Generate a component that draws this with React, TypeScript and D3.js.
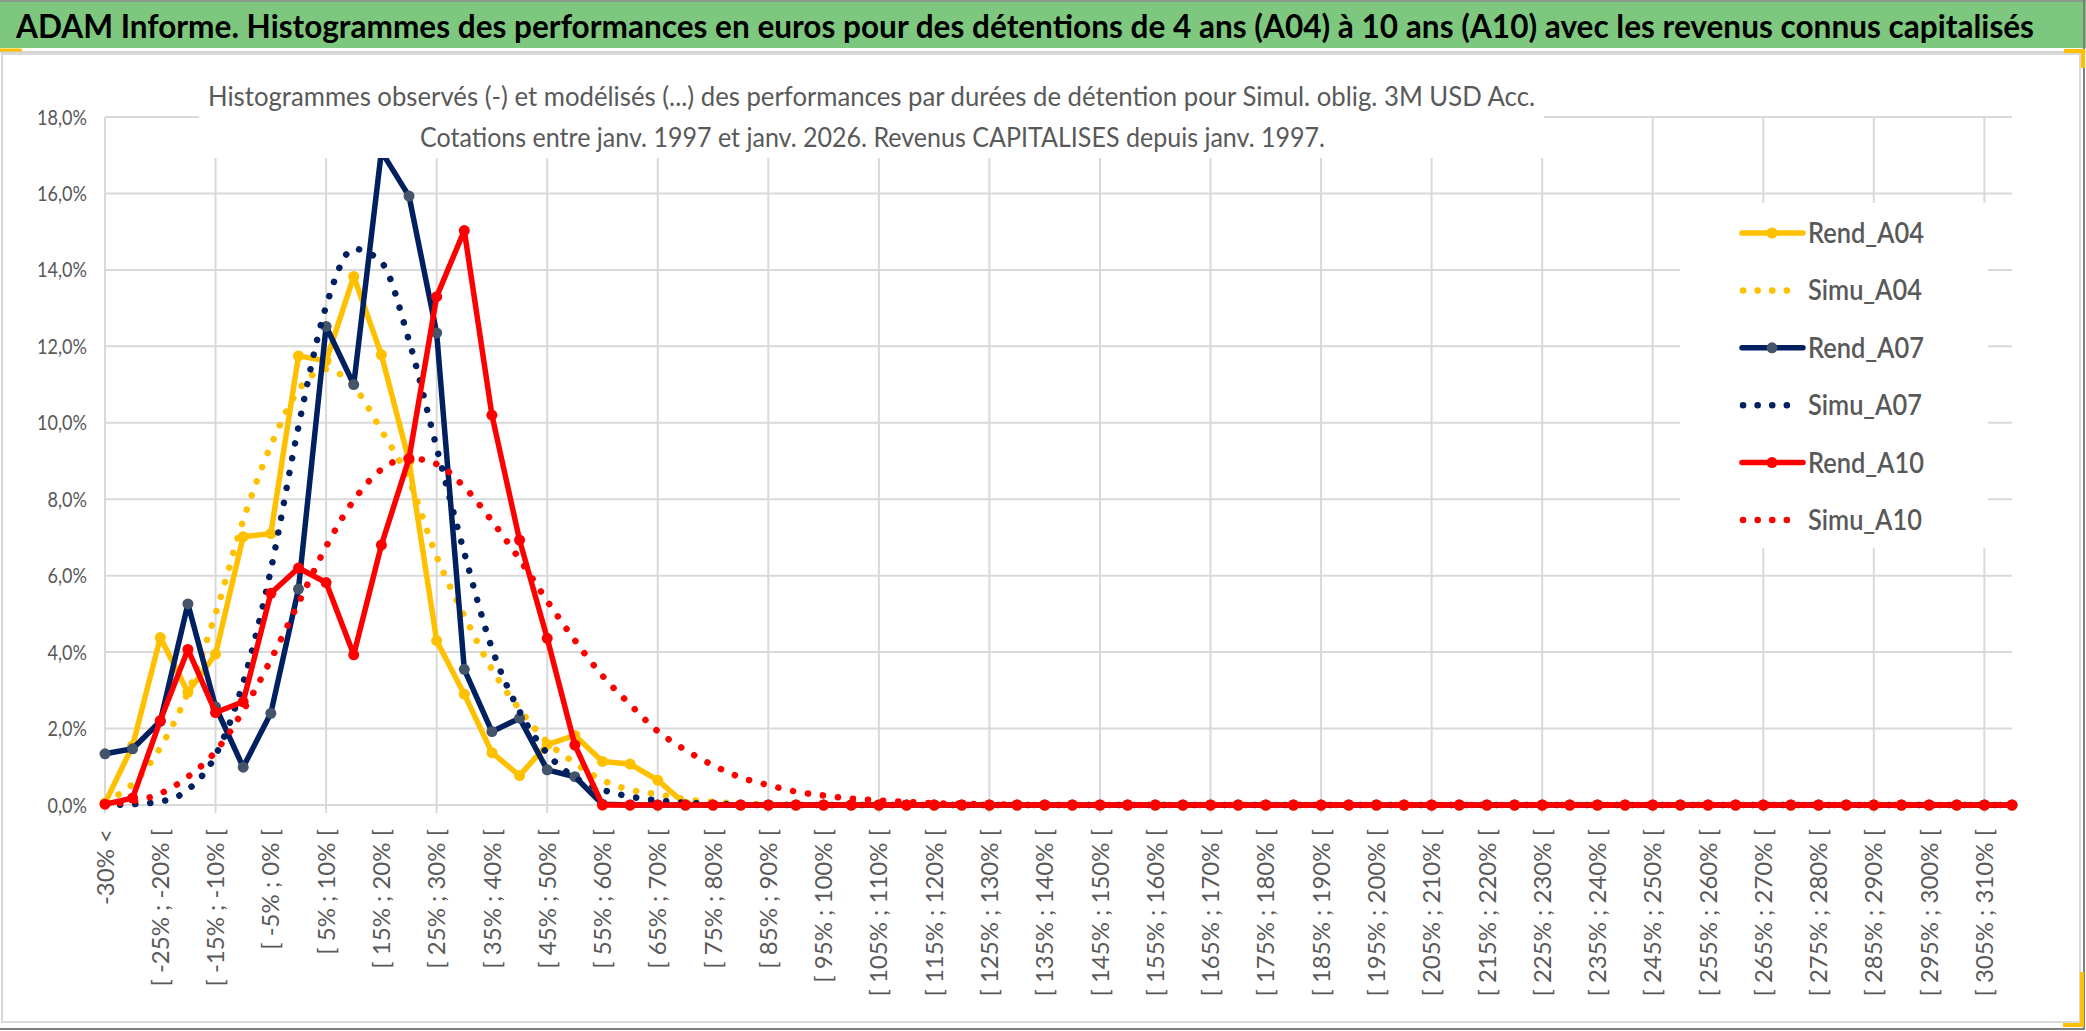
import * as d3 from "d3";

const width = 2086;
const height = 1031;
const FONT = "Lato, 'Open Sans', 'DejaVu Sans', sans-serif";
const GREY = "#595959";

// categories of the histogram (one label out of two is shown)
const categories = [
  "-30% <", "[ -30% ; -25% [", "[ -25% ; -20% [", "[ -20% ; -15% [", "[ -15% ; -10% [",
  "[ -10% ; -5% [", "[ -5% ; 0% [", "[ 0% ; 5% [", "[ 5% ; 10% [", "[ 10% ; 15% [",
  "[ 15% ; 20% [", "[ 20% ; 25% [", "[ 25% ; 30% [", "[ 30% ; 35% [", "[ 35% ; 40% [",
  "[ 40% ; 45% [", "[ 45% ; 50% [", "[ 50% ; 55% [", "[ 55% ; 60% [", "[ 60% ; 65% [",
  "[ 65% ; 70% [", "[ 70% ; 75% [", "[ 75% ; 80% [", "[ 80% ; 85% [", "[ 85% ; 90% [",
  "[ 90% ; 95% [", "[ 95% ; 100% [", "[ 100% ; 105% [", "[ 105% ; 110% [", "[ 110% ; 115% [",
  "[ 115% ; 120% [", "[ 120% ; 125% [", "[ 125% ; 130% [", "[ 130% ; 135% [", "[ 135% ; 140% [",
  "[ 140% ; 145% [", "[ 145% ; 150% [", "[ 150% ; 155% [", "[ 155% ; 160% [", "[ 160% ; 165% [",
  "[ 165% ; 170% [", "[ 170% ; 175% [", "[ 175% ; 180% [", "[ 180% ; 185% [", "[ 185% ; 190% [",
  "[ 190% ; 195% [", "[ 195% ; 200% [", "[ 200% ; 205% [", "[ 205% ; 210% [", "[ 210% ; 215% [",
  "[ 215% ; 220% [", "[ 220% ; 225% [", "[ 225% ; 230% [", "[ 230% ; 235% [", "[ 235% ; 240% [",
  "[ 240% ; 245% [", "[ 245% ; 250% [", "[ 250% ; 255% [", "[ 255% ; 260% [", "[ 260% ; 265% [",
  "[ 265% ; 270% [", "[ 270% ; 275% [", "[ 275% ; 280% [", "[ 280% ; 285% [", "[ 285% ; 290% [",
  "[ 290% ; 295% [", "[ 295% ; 300% [", "[ 300% ; 305% [", "[ 305% ; 310% [", "[ 310% ; 315% [",
];

// values in %
const rendA04 = [
  0.05, 1.55, 4.38, 2.95, 3.95, 7.02, 7.1, 11.75, 11.62, 13.83,
  11.78, 9.0, 4.3, 2.9, 1.37, 0.77, 1.58, 1.82, 1.14, 1.07,
  0.65, 0.02, 0, 0, 0, 0, 0, 0, 0, 0,
  0, 0, 0, 0, 0, 0, 0, 0, 0, 0,
  0, 0, 0, 0, 0, 0, 0, 0, 0, 0,
  0, 0, 0, 0, 0, 0, 0, 0, 0, 0,
  0, 0, 0, 0, 0, 0, 0, 0, 0, 0,
];
const simuA04 = [
  0.1, 0.55, 1.5, 2.95, 5.0, 7.45, 9.4, 10.85, 11.4, 10.95,
  9.8, 8.5, 6.5, 4.95, 3.55, 2.5, 1.65, 1.1, 0.65, 0.4,
  0.28, 0.15, 0.08, 0.04, 0.02, 0, 0, 0, 0, 0,
  0, 0, 0, 0, 0, 0, 0, 0, 0, 0,
  0, 0, 0, 0, 0, 0, 0, 0, 0, 0,
  0, 0, 0, 0, 0, 0, 0, 0, 0, 0,
  0, 0, 0, 0, 0, 0, 0, 0, 0, 0,
];
const rendA07 = [
  1.34, 1.47, 2.19, 5.26, 2.57, 0.99, 2.4, 5.65, 12.52, 11.0,
  17.1, 15.93, 12.35, 3.55, 1.92, 2.27, 0.92, 0.74, 0.02, 0,
  0, 0, 0, 0, 0, 0, 0, 0, 0, 0,
  0, 0, 0, 0, 0, 0, 0, 0, 0, 0,
  0, 0, 0, 0, 0, 0, 0, 0, 0, 0,
  0, 0, 0, 0, 0, 0, 0, 0, 0, 0,
  0, 0, 0, 0, 0, 0, 0, 0, 0, 0,
];
const simuA07 = [
  0, 0.02, 0.09, 0.4, 1.3, 3.2, 6.15, 9.9, 13.05, 14.55,
  14.2, 12.15, 9.35, 6.6, 4.1, 2.45, 1.35, 0.72, 0.4, 0.22,
  0.12, 0.06, 0.03, 0.01, 0, 0, 0, 0, 0, 0,
  0, 0, 0, 0, 0, 0, 0, 0, 0, 0,
  0, 0, 0, 0, 0, 0, 0, 0, 0, 0,
  0, 0, 0, 0, 0, 0, 0, 0, 0, 0,
  0, 0, 0, 0, 0, 0, 0, 0, 0, 0,
];
const rendA10 = [
  0.02, 0.18, 2.21, 4.07, 2.42, 2.7, 5.54, 6.2, 5.82, 3.93,
  6.8, 9.06, 13.3, 15.03, 10.2, 6.93, 4.36, 1.57, 0, 0,
  0, 0, 0, 0, 0, 0, 0, 0, 0, 0,
  0, 0, 0, 0, 0, 0, 0, 0, 0, 0,
  0, 0, 0, 0, 0, 0, 0, 0, 0, 0,
  0, 0, 0, 0, 0, 0, 0, 0, 0, 0,
  0, 0, 0, 0, 0, 0, 0, 0, 0, 0,
];
const simuA10 = [
  0.02, 0.1, 0.3, 0.74, 1.4, 2.47, 3.8, 5.28, 6.76, 7.97,
  8.78, 9.07, 8.92, 8.32, 7.43, 6.43, 5.34, 4.31, 3.38, 2.63,
  1.93, 1.44, 1.04, 0.72, 0.52, 0.35, 0.25, 0.17, 0.12, 0.08,
  0.05, 0.03, 0.02, 0.01, 0, 0, 0, 0, 0, 0,
  0, 0, 0, 0, 0, 0, 0, 0, 0, 0,
  0, 0, 0, 0, 0, 0, 0, 0, 0, 0,
  0, 0, 0, 0, 0, 0, 0, 0, 0, 0,
];

const yTicks = [0, 2, 4, 6, 8, 10, 12, 14, 16, 18];

const title =
  "ADAM Informe. Histogrammes des performances en euros pour des détentions de 4 ans (A04) à 10 ans (A10) avec les revenus connus capitalisés";
const subtitle1 =
  "Histogrammes observés (-) et modélisés (...) des performances par durées de détention pour Simul. oblig. 3M USD Acc.";
const subtitle2 =
  "Cotations entre janv. 1997 et janv. 2026. Revenus CAPITALISES depuis janv. 1997.";

type Serie = { name: string; values: number[]; color: string; marker?: string; dotted: boolean };

const series: Serie[] = [
  { name: "Rend_A04", values: rendA04, color: "#FFC000", marker: "#FFC000", dotted: false },
  { name: "Simu_A04", values: simuA04, color: "#FFC000", dotted: true },
  { name: "Rend_A07", values: rendA07, color: "#002060", marker: "#44546A", dotted: false },
  { name: "Simu_A07", values: simuA07, color: "#002060", dotted: true },
  { name: "Rend_A10", values: rendA10, color: "#FF0000", marker: "#FF0000", dotted: false },
  { name: "Simu_A10", values: simuA10, color: "#FF0000", dotted: true },
];

const fr = d3.formatLocale({ decimal: ",", thousands: " ", grouping: [3], currency: ["", " €"] });
const fmt = (v: number) => fr.format(".1f")(v) + "%";

const App = () => {
  const x = d3.scalePoint<string>().domain(categories).range([105, 2012]);
  const y = d3.scaleLinear().domain([0, 18]).range([805, 117]);

  const lineSolid = d3.line<number>()
    .x((_, i) => x(categories[i]) as number)
    .y(d => y(d));
  const lineSmooth = d3.line<number>()
    .x((_, i) => x(categories[i]) as number)
    .y(d => y(d))
    .curve(d3.curveMonotoneX);

  const vGrid = categories.filter((_, i) => i % 4 === 0);
  const xLabels = categories.filter((_, i) => i % 2 === 0);

  const legendX = 1742;
  const legendY0 = 233;
  const legendStep = 57.4;

  return (
    <svg width={width} height={height} viewBox={`0 0 ${width} ${height}`}
      style={{ position: "absolute", left: 0, top: 0, display: "block", background: "#fff" }}
      fontFamily={FONT}>
      <rect x={0} y={0} width={width} height={height} fill="#fff" />

      {/* banner */}
      <rect x={0} y={0} width={width} height={48} fill="#7DC87E" />
      <line x1={0} x2={width} y1={1} y2={1} stroke="#8C9A8C" strokeWidth={2} />
      <line x1={0} x2={width} y1={52} y2={52} stroke="#D4D4D4" strokeWidth={2} />
      <line x1={0} x2={22} y1={50} y2={50} stroke="#FFC000" strokeWidth={3} />
      <text x={16} y={38} fontSize={32} fontWeight={700} fill="#000"
        textLength={2018} lengthAdjust="spacingAndGlyphs">{title}</text>

      {/* chart area frame */}
      <rect x={2} y={54} width={2078} height={968} fill="none" stroke="#D9D9D9" strokeWidth={2} />
      <line x1={2084} x2={2084} y1={0} y2={1030} stroke="#7F7F7F" strokeWidth={2} />
      <line x1={0} x2={2085} y1={1029} y2={1029} stroke="#7F7F7F" strokeWidth={2} />
      <polyline points="2064,51 2083,51 2083,68" fill="none" stroke="#FFC000" strokeWidth={4} />
      <polyline points="2082,972 2082,1025 2063,1025" fill="none" stroke="#FFC000" strokeWidth={4} />

      {/* gridlines */}
      {yTicks.map(t => (
        <line key={`h${t}`} x1={105} x2={2012} y1={y(t)} y2={y(t)} stroke="#D9D9D9" strokeWidth={2} />
      ))}
      {vGrid.map(c => (
        <line key={`v${c}`} x1={x(c)} x2={x(c)} y1={y(18)} y2={813} stroke="#D9D9D9" strokeWidth={2} />
      ))}

      {/* y axis labels */}
      {yTicks.map(t => (
        <text key={`yl${t}`} transform={`translate(87,${y(t)}) scale(0.86,1)`} textAnchor="end"
          dy="0.36em" fontSize={21} fill={GREY}>{fmt(t)}</text>
      ))}

      {/* x axis labels */}
      {xLabels.map(c => (
        <text key={`xl${c}`} transform={`translate(${x(c)},829) rotate(-90)`} textAnchor="end"
          dy="0.36em" fontSize={24} fill={GREY}>{c}</text>
      ))}

      {/* series */}
      {series.map(s => (
        <g key={s.name}>
          {s.dotted ? (
            <path d={lineSmooth(s.values) as string} fill="none" stroke={s.color} strokeWidth={6.5}
              strokeLinecap="round" strokeDasharray="0.1 15" />
          ) : (
            <path d={lineSolid(s.values) as string} fill="none" stroke={s.color} strokeWidth={5.5}
              strokeLinejoin="round" strokeLinecap="round" />
          )}
          {!s.dotted && s.values.map((v, i) => (
            <circle key={i} cx={x(categories[i])} cy={y(v)} r={5.5} fill={s.marker} />
          ))}
        </g>
      ))}

      {/* chart title box */}
      <rect x={199} y={58} width={1345} height={100} fill="#fff" />
      <text x={208} y={106} fontSize={26} fill={GREY} textLength={1327} lengthAdjust="spacingAndGlyphs">{subtitle1}</text>
      <text x={420} y={147} fontSize={26} fill={GREY} textLength={905} lengthAdjust="spacingAndGlyphs">{subtitle2}</text>

      {/* legend */}
      <rect x={1680} y={203} width={308} height={345} fill="#fff" />
      {series.map((s, i) => {
        const ly = legendY0 + i * legendStep;
        return (
          <g key={`lg${s.name}`}>
            {s.dotted ? (
              <line x1={legendX + 1} x2={legendX + 58} y1={ly} y2={ly} stroke={s.color} strokeWidth={6.5}
                strokeLinecap="round" strokeDasharray="0.1 14.5" />
            ) : (
              <>
                <line x1={legendX} x2={legendX + 61} y1={ly} y2={ly} stroke={s.color} strokeWidth={5.5} strokeLinecap="round" />
                <circle cx={legendX + 30} cy={ly} r={5.5} fill={s.marker} />
              </>
            )}
            <text x={1808} y={ly + 10} fontSize={28} fontWeight={600} fill={GREY}
              textLength={s.dotted ? 114 : 116} lengthAdjust="spacingAndGlyphs">{s.name}</text>
          </g>
        );
      })}
    </svg>
  );
};

export default App;
